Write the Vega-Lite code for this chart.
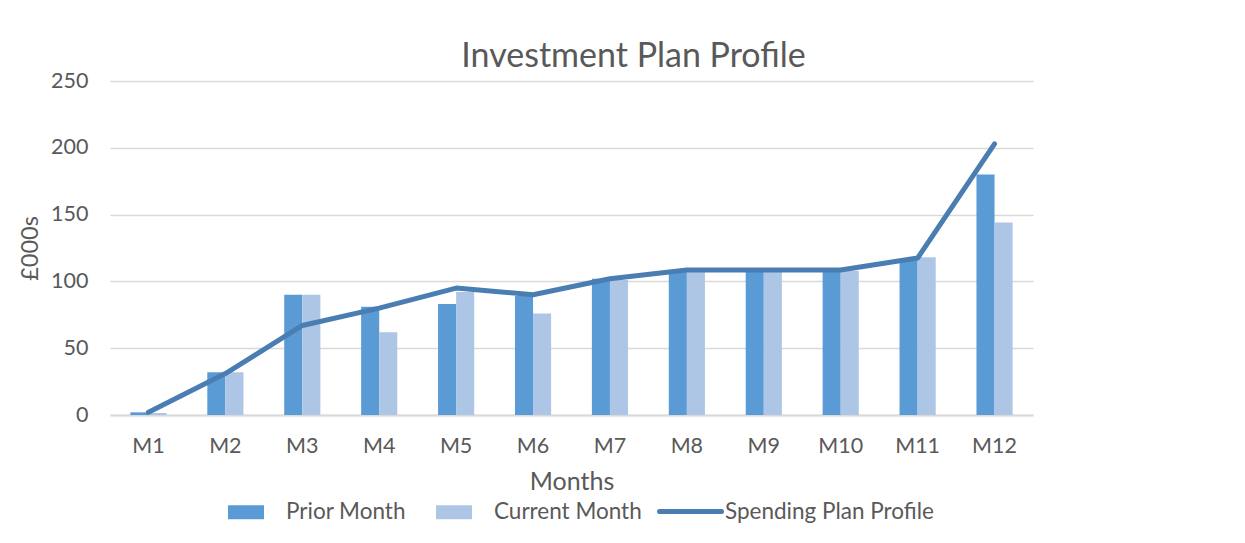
{
  "$schema": "https://vega.github.io/schema/vega-lite/v6.json",
  "autosize": "none",
  "width": 923,
  "height": 334,
  "padding": {"left": 110, "top": 81, "right": 212, "bottom": 128},
  "background": "white",
  "config": {
    "font": "Lato",
    "view": {"stroke": null},
    "axis": {"labelColor": "#595959", "titleColor": "#595959", "labelFont": "Lato", "titleFont": "Lato", "titleFontWeight": "normal"},
    "legend": {"labelColor": "#595959", "labelFont": "Lato"}
  },
  "title": {
    "text": "Investment Plan Profile",
    "fontSize": 34,
    "fontWeight": "normal",
    "color": "#595959",
    "font": "Lato",
    "anchor": "middle",
    "dx": 62,
    "offset": -4
  },
  "datasets": {
    "bars": [
      {"month": "M1", "series": "Prior Month", "value": 2},
      {"month": "M1", "series": "Current Month", "value": 1.5},
      {"month": "M2", "series": "Prior Month", "value": 32},
      {"month": "M2", "series": "Current Month", "value": 32},
      {"month": "M3", "series": "Prior Month", "value": 90},
      {"month": "M3", "series": "Current Month", "value": 90},
      {"month": "M4", "series": "Prior Month", "value": 81},
      {"month": "M4", "series": "Current Month", "value": 62},
      {"month": "M5", "series": "Prior Month", "value": 83},
      {"month": "M5", "series": "Current Month", "value": 92},
      {"month": "M6", "series": "Prior Month", "value": 89},
      {"month": "M6", "series": "Current Month", "value": 76},
      {"month": "M7", "series": "Prior Month", "value": 102},
      {"month": "M7", "series": "Current Month", "value": 101},
      {"month": "M8", "series": "Prior Month", "value": 108},
      {"month": "M8", "series": "Current Month", "value": 108},
      {"month": "M9", "series": "Prior Month", "value": 108},
      {"month": "M9", "series": "Current Month", "value": 108},
      {"month": "M10", "series": "Prior Month", "value": 108},
      {"month": "M10", "series": "Current Month", "value": 108},
      {"month": "M11", "series": "Prior Month", "value": 117},
      {"month": "M11", "series": "Current Month", "value": 118},
      {"month": "M12", "series": "Prior Month", "value": 180},
      {"month": "M12", "series": "Current Month", "value": 144}
    ],
    "plan": [
      {"month": "M1", "line": "Spending Plan Profile", "value": 2},
      {"month": "M2", "line": "Spending Plan Profile", "value": 31},
      {"month": "M3", "line": "Spending Plan Profile", "value": 67},
      {"month": "M4", "line": "Spending Plan Profile", "value": 80},
      {"month": "M5", "line": "Spending Plan Profile", "value": 95},
      {"month": "M6", "line": "Spending Plan Profile", "value": 90},
      {"month": "M7", "line": "Spending Plan Profile", "value": 102},
      {"month": "M8", "line": "Spending Plan Profile", "value": 108.5},
      {"month": "M9", "line": "Spending Plan Profile", "value": 108.5},
      {"month": "M10", "line": "Spending Plan Profile", "value": 108.5},
      {"month": "M11", "line": "Spending Plan Profile", "value": 117.5},
      {"month": "M12", "line": "Spending Plan Profile", "value": 203}
    ]
  },
  "encoding": {
    "x": {
      "field": "month",
      "type": "nominal",
      "sort": ["M1","M2","M3","M4","M5","M6","M7","M8","M9","M10","M11","M12"],
      "scale": {"paddingInner": 0.53, "paddingOuter": 0.265},
      "axis": {
        "title": "Months",
        "titleFontSize": 25,
        "titlePadding": 13,
        "labelFontSize": 21.5,
        "labelAngle": 0,
        "labelPadding": 20,
        "ticks": false,
        "domainColor": "#d9d9d9",
        "domainWidth": 2,
        "grid": false
      }
    },
    "y": {
      "field": "value",
      "type": "quantitative",
      "scale": {"domain": [0, 250], "nice": false},
      "axis": {
        "title": "£000s",
        "titleFontSize": 23.5,
        "titlePadding": 8,
        "labelFontSize": 21.5,
        "labelPadding": 22,
        "values": [0, 50, 100, 150, 200, 250],
        "ticks": false,
        "domain": false,
        "gridColor": "#d9d9d9",
        "gridWidth": 1.5
      }
    }
  },
  "layer": [
    {
      "data": {"name": "bars"},
      "mark": {"type": "bar"},
      "encoding": {
        "xOffset": {"field": "series", "type": "nominal", "sort": ["Prior Month", "Current Month"], "scale": {"paddingInner": 0, "paddingOuter": 0}},
        "color": {
          "field": "series",
          "type": "nominal",
          "scale": {"domain": ["Prior Month", "Current Month"], "range": ["#5b9bd5", "#adc6e6"]},
          "legend": {
            "title": null,
            "orient": "none",
            "direction": "horizontal",
            "legendX": 118,
            "legendY": 413,
            "symbolType": "M-1,-0.39H1V0.39H-1Z",
            "symbolSize": 1296,
            "symbolStrokeWidth": 0,
            "labelFontSize": 22.5,
            "labelOffset": 22,
            "labelLimit": 300,
            "columnPadding": 30
          }
        }
      }
    },
    {
      "data": {"name": "plan"},
      "mark": {"type": "line", "strokeWidth": 5, "strokeCap": "round", "strokeJoin": "round"},
      "encoding": {
        "stroke": {
          "field": "line",
          "type": "nominal",
          "scale": {"domain": ["Spending Plan Profile"], "range": ["#4a7eb2"]},
          "legend": {
            "title": null,
            "orient": "none",
            "direction": "horizontal",
            "legendX": 547,
            "legendY": 397,
            "symbolType": "stroke",
            "symbolSize": 3844,
            "symbolStrokeWidth": 5,
            "labelFontSize": 22.5,
            "labelOffset": 1,
            "labelLimit": 400,
            "encode": {"symbols": {"update": {"strokeCap": {"value": "round"}}}}
          }
        }
      }
    }
  ]
}
